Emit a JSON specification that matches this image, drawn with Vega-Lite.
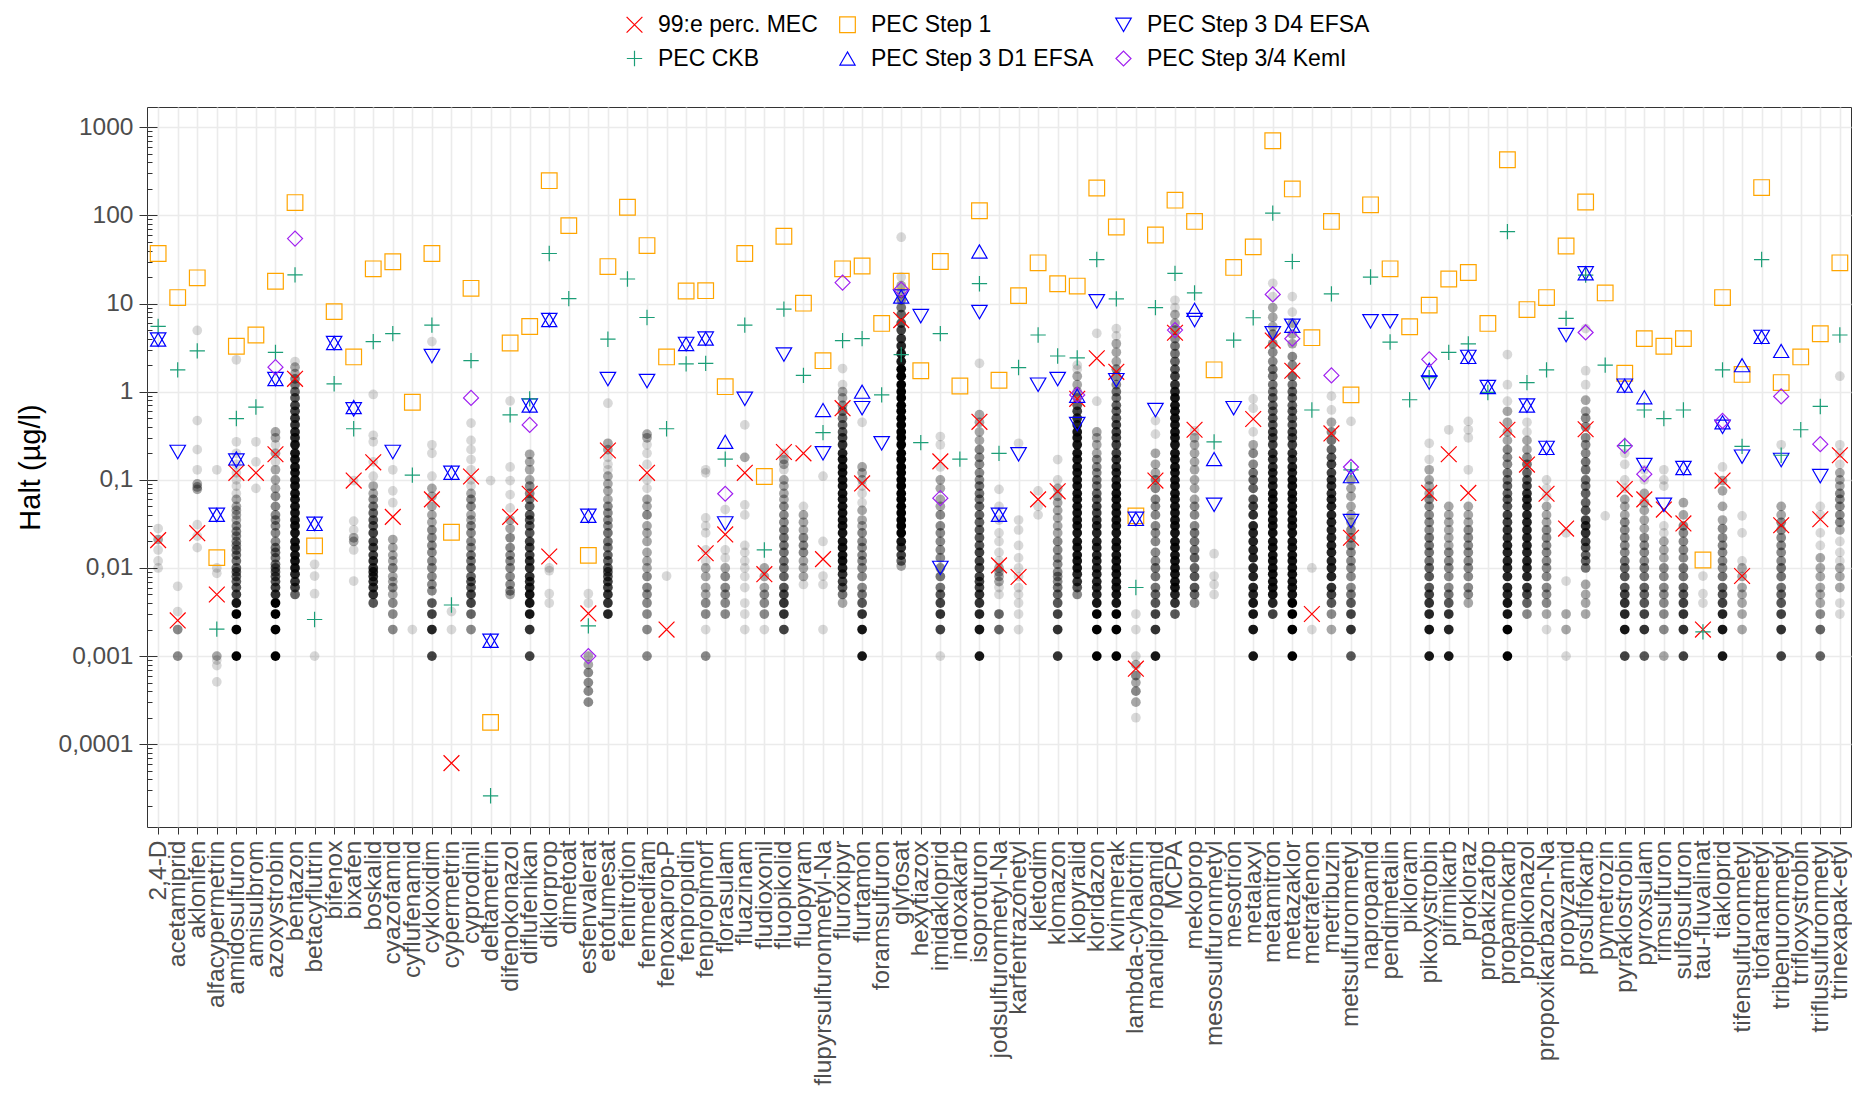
{
 "$schema": "https://vega.github.io/schema/vega-lite/v6.json",
 "width": 1704,
 "height": 720,
 "autosize": "none",
 "padding": {"left": 147, "top": 107, "right": 1, "bottom": 266},
 "background": "white",
 "config": {
  "font": "Liberation Sans",
  "view": {"stroke": "#333333", "strokeWidth": 1},
  "axis": {"labelFont": "Liberation Sans", "titleFont": "Liberation Sans"}
 },
 "datasets": {
  "grey": [
   {"s":"2,4-D","v":[0.028,0.021,0.016,0.012,0.01],"n":[1,2,1,1,1]},
   {"s":"acetamiprid","v":[0.0062,0.0032,0.002,0.001],"n":[1,1,3,3]},
   {"s":"aklonifen","v":[4.95,0.47,0.22,0.13,0.09,0.083,0.078,0.031,0.023,0.017],"n":[1,1,1,1,2,2,2,1,1,1]},
   {"s":"alfacypermetrin","v":[0.13,0.01,0.0087,0.001,0.0009,0.00078,0.00051],"n":[1,1,1,2,1,1,1]},
   {"s":"amidosulfuron","v":[2.3,0.27,0.2,0.15,0.12,0.1,0.085,0.07,0.06,0.05,0.045,0.04,0.035,0.03,0.026,0.023,0.02,0.018,0.016,0.014,0.012,0.01,0.009,0.008,0.007,0.006,0.005,0.004,0.003,0.002,0.001],"n":[1,1,1,1,1,1,1,1,2,2,2,2,2,3,3,3,3,3,4,4,4,5,5,5,5,6,8,15,20,20,20]},
   {"s":"amisulbrom","v":[0.27,0.16,0.08],"n":[1,1,1]},
   {"s":"azoxystrobin","v":[0.35,0.3,0.25,0.2,0.16,0.13,0.1,0.08,0.065,0.05,0.04,0.035,0.03,0.025,0.02,0.017,0.015,0.013,0.011,0.01,0.009,0.008,0.007,0.006,0.005,0.004,0.003,0.002,0.001],"n":[2,2,1,2,1,2,2,2,3,3,3,3,3,3,3,4,4,4,4,5,5,6,6,8,10,20,20,20,20]},
   {"s":"bentazon","v":[2.2,1.9,1.6,1.4,1.2,1.0,0.85,0.7,0.6,0.5,0.42,0.35,0.3,0.25,0.2,0.17,0.14,0.12,0.1,0.085,0.07,0.06,0.05,0.042,0.035,0.03,0.025,0.02,0.017,0.014,0.012,0.01,0.0085,0.007,0.006,0.005],"n":[1,2,2,3,4,5,6,8,8,10,10,12,12,15,15,15,15,15,15,15,15,15,15,15,15,15,15,15,15,15,15,15,12,10,8,5]},
   {"s":"betacyflutrin","v":[0.011,0.0081,0.0051,0.001],"n":[1,1,1,1]},
   {"s":"bixafen","v":[0.098,0.034,0.027,0.022,0.02,0.016,0.0071],"n":[1,1,1,2,2,1,1]},
   {"s":"boskalid","v":[0.93,0.32,0.27,0.16,0.11,0.085,0.07,0.06,0.05,0.042,0.035,0.03,0.025,0.02,0.017,0.014,0.012,0.01,0.009,0.008,0.007,0.006,0.005,0.004],"n":[1,1,1,1,1,2,2,3,4,5,6,6,8,8,8,8,10,10,10,10,10,10,10,6]},
   {"s":"cyazofamid","v":[0.13,0.075,0.055,0.021,0.017,0.014,0.012,0.01,0.008,0.007,0.006,0.005,0.004,0.003,0.002],"n":[1,1,1,2,2,2,2,3,2,2,3,2,3,3,3]},
   {"s":"cyflufenamid","v":[0.002],"n":[1]},
   {"s":"cykloxidim","v":[3.7,0.25,0.2,0.11,0.08,0.065,0.05,0.04,0.033,0.027,0.022,0.018,0.015,0.012,0.01,0.008,0.0065,0.0055,0.004,0.003,0.002,0.001],"n":[1,1,1,1,2,2,2,2,2,3,3,3,3,3,3,3,3,3,6,8,12,8]},
   {"s":"cypermetrin","v":[0.0032,0.002],"n":[1,1]},
   {"s":"cyprodinil","v":[0.44,0.28,0.22,0.17,0.13,0.1,0.085,0.07,0.06,0.05,0.04,0.035,0.03,0.025,0.02,0.017,0.014,0.012,0.01,0.008,0.007,0.006,0.005,0.004,0.003,0.002],"n":[1,1,1,1,1,1,1,2,3,3,2,2,3,3,3,3,4,4,5,5,6,6,8,8,5,3]},
   {"s":"deltametrin","v":[0.098],"n":[1]},
   {"s":"difenokonazol","v":[0.785,0.14,0.098,0.068,0.048,0.035,0.028,0.022,0.017,0.014,0.012,0.01,0.008,0.0065,0.0055,0.005],"n":[1,1,1,1,1,2,2,3,3,3,3,3,3,3,3,2]},
   {"s":"diflufenikan","v":[0.195,0.16,0.13,0.1,0.085,0.07,0.06,0.05,0.04,0.035,0.03,0.025,0.02,0.017,0.014,0.012,0.01,0.008,0.007,0.006,0.005,0.004,0.003,0.002,0.001],"n":[2,2,2,2,3,3,4,5,6,6,6,6,8,8,8,10,10,10,10,12,15,15,15,10,8]},
   {"s":"diklorprop","v":[0.01,0.0093,0.0051,0.004],"n":[1,1,1,1]},
   {"s":"esfenvalerat","v":[0.0051,0.004,0.001,0.0008,0.00065,0.0005,0.0004,0.0003],"n":[1,1,2,2,3,3,3,3]},
   {"s":"etofumesat","v":[0.74,0.26,0.22,0.18,0.15,0.13,0.11,0.09,0.075,0.06,0.05,0.042,0.035,0.03,0.025,0.02,0.017,0.014,0.012,0.01,0.009,0.008,0.007,0.006,0.005,0.004,0.003],"n":[1,2,2,1,1,1,2,2,2,2,3,3,3,3,4,4,4,5,5,6,6,6,8,8,10,10,12]},
   {"s":"fenmedifam","v":[0.33,0.3,0.25,0.2,0.15,0.1,0.08,0.06,0.05,0.04,0.03,0.025,0.02,0.015,0.012,0.01,0.008,0.006,0.005,0.004,0.003,0.002,0.001],"n":[2,2,1,1,1,1,1,2,2,3,2,2,2,2,2,2,3,3,3,3,3,3,3]},
   {"s":"fenoxaprop-P","v":[0.0081],"n":[1]},
   {"s":"fenpropimorf","v":[0.13,0.12,0.037,0.03,0.025,0.016,0.012,0.01,0.008,0.006,0.005,0.004,0.003,0.002,0.001],"n":[1,1,1,1,1,1,1,2,2,2,2,3,3,1,3]},
   {"s":"florasulam","v":[0.046,0.016,0.013,0.01,0.008,0.006,0.005,0.004,0.003],"n":[1,1,1,2,3,3,3,3,3]},
   {"s":"fluazinam","v":[0.42,0.18,0.052,0.04,0.018,0.015,0.012,0.01,0.008,0.006,0.004,0.003,0.002],"n":[1,2,1,1,1,1,1,1,1,1,1,1,1]},
   {"s":"fludioxonil","v":[0.01,0.008,0.006,0.005,0.004,0.003,0.002],"n":[2,2,2,3,3,3,1]},
   {"s":"fluopikolid","v":[0.2,0.17,0.15,0.13,0.1,0.085,0.07,0.06,0.05,0.04,0.033,0.027,0.022,0.018,0.015,0.012,0.01,0.008,0.006,0.005,0.004,0.003,0.002],"n":[1,2,2,1,2,2,2,2,3,3,3,4,4,4,4,4,4,5,6,8,10,10,8]},
   {"s":"fluopyram","v":[0.05,0.04,0.033,0.027,0.022,0.018,0.015,0.012,0.01,0.008,0.0065],"n":[1,2,2,2,3,3,3,2,2,2,1]},
   {"s":"flupyrsulfuronmetyl-Na","v":[0.11,0.02,0.0081,0.0065,0.002],"n":[1,1,1,1,1]},
   {"s":"fluroxipyr","v":[1.83,1.2,1.0,0.85,0.7,0.6,0.5,0.42,0.35,0.3,0.25,0.2,0.17,0.14,0.12,0.1,0.085,0.07,0.06,0.05,0.042,0.035,0.03,0.025,0.02,0.017,0.014,0.012,0.01,0.0085,0.007,0.006,0.005,0.004],"n":[1,1,2,2,3,4,4,5,6,8,10,12,15,15,15,15,15,15,15,15,15,15,15,15,15,15,15,15,12,10,8,6,4,2]},
   {"s":"flurtamon","v":[0.45,0.14,0.12,0.1,0.085,0.07,0.055,0.045,0.035,0.03,0.025,0.02,0.017,0.014,0.012,0.01,0.008,0.006,0.005,0.004,0.003,0.002,0.001],"n":[1,2,2,2,1,1,1,2,2,2,3,3,3,3,3,3,3,3,4,6,10,15,15]},
   {"s":"glyfosat","v":[56.6,20,16,13,11,9,7.5,6,5,4,3.3,2.7,2.2,1.8,1.5,1.2,1.0,0.85,0.7,0.6,0.5,0.42,0.35,0.3,0.25,0.2,0.17,0.14,0.12,0.1,0.085,0.07,0.06,0.05,0.042,0.035,0.03,0.025,0.02,0.017,0.014,0.012,0.0105],"n":[1,1,2,2,3,4,5,6,8,10,12,15,15,20,20,20,20,20,20,20,20,20,20,20,20,20,20,20,20,20,20,20,20,20,20,20,20,20,15,10,8,5,2]},
   {"s":"imidakloprid","v":[0.31,0.25,0.14,0.1,0.08,0.06,0.05,0.04,0.03,0.025,0.02,0.016,0.013,0.01,0.008,0.006,0.005,0.004,0.003,0.002,0.001],"n":[1,1,1,2,2,2,2,3,3,3,3,3,3,3,4,4,6,8,10,8,1]},
   {"s":"isoproturon","v":[2.1,0.55,0.45,0.35,0.28,0.22,0.18,0.15,0.12,0.1,0.085,0.07,0.06,0.05,0.04,0.033,0.027,0.022,0.018,0.015,0.012,0.01,0.008,0.007,0.006,0.005,0.004,0.003,0.002,0.001],"n":[1,2,2,2,2,3,3,3,3,3,4,4,4,5,5,5,6,6,6,8,8,8,8,8,8,10,10,12,15,15]},
   {"s":"jodsulfuronmetyl-Na","v":[0.078,0.05,0.035,0.025,0.02,0.015,0.012,0.01,0.009,0.008,0.007,0.006,0.005,0.003,0.002],"n":[1,1,1,1,1,1,1,2,2,2,2,1,1,5,5]},
   {"s":"karfentrazonetyl","v":[0.26,0.035,0.027,0.018,0.013,0.01,0.008,0.006,0.005,0.004,0.003,0.002],"n":[1,1,1,1,1,1,1,1,1,1,1,1]},
   {"s":"kletodim","v":[0.075,0.05,0.04],"n":[1,1,1]},
   {"s":"klomazon","v":[0.17,0.1,0.08,0.065,0.055,0.045,0.037,0.03,0.025,0.02,0.016,0.013,0.011,0.009,0.008,0.007,0.006,0.005,0.004,0.003,0.002,0.001],"n":[1,1,2,2,2,2,2,2,2,3,3,3,3,3,3,3,4,5,6,8,10,10]},
   {"s":"klopyralid","v":[2.0,1.8,1.5,1.2,1.0,0.85,0.7,0.6,0.5,0.42,0.35,0.3,0.25,0.2,0.17,0.14,0.12,0.1,0.085,0.07,0.06,0.05,0.042,0.035,0.03,0.025,0.02,0.017,0.014,0.012,0.01,0.0085,0.007,0.006,0.005],"n":[1,1,2,2,2,3,5,8,10,12,15,15,15,15,15,15,15,15,15,15,15,15,15,15,15,15,15,15,15,15,15,12,10,6,3]},
   {"s":"kloridazon","v":[4.6,0.78,0.35,0.3,0.25,0.2,0.17,0.14,0.12,0.1,0.085,0.07,0.06,0.05,0.042,0.035,0.03,0.025,0.02,0.017,0.014,0.012,0.01,0.0085,0.007,0.006,0.005,0.004,0.003,0.002,0.001],"n":[1,1,2,2,2,2,3,3,3,4,4,5,6,8,8,10,12,12,12,12,12,12,12,12,12,12,12,15,20,20,20]},
   {"s":"kvinmerak","v":[5.2,4.3,3.5,2.8,2.2,1.8,1.5,1.2,1.0,0.85,0.7,0.6,0.5,0.42,0.35,0.3,0.25,0.2,0.17,0.14,0.12,0.1,0.085,0.07,0.06,0.05,0.042,0.035,0.03,0.025,0.02,0.017,0.014,0.012,0.01,0.0085,0.007,0.006,0.005,0.004,0.003,0.002,0.001],"n":[1,1,2,2,2,3,3,3,4,4,5,5,6,8,8,8,8,8,10,10,12,12,15,15,15,15,15,15,15,15,15,15,15,15,15,15,15,15,15,15,20,20,20]},
   {"s":"lambda-cyhalotrin","v":[0.003,0.002,0.001,0.0008,0.0006,0.0005,0.0004,0.0003,0.0002],"n":[1,1,1,2,3,2,3,2,1]},
   {"s":"mandipropamid","v":[0.47,0.33,0.2,0.15,0.12,0.1,0.08,0.06,0.05,0.04,0.03,0.025,0.02,0.015,0.012,0.01,0.008,0.006,0.005,0.004,0.003,0.002,0.001],"n":[1,1,2,2,2,3,3,3,3,3,3,3,3,3,3,4,4,4,5,6,8,10,15]},
   {"s":"MCPA","v":[10.9,9,7.5,6,5,4,3.3,2.7,2.2,1.8,1.5,1.2,1.0,0.85,0.7,0.6,0.5,0.42,0.35,0.3,0.25,0.2,0.17,0.14,0.12,0.1,0.085,0.07,0.06,0.05,0.042,0.035,0.03,0.025,0.02,0.017,0.014,0.012,0.01,0.0085,0.007,0.006,0.005,0.004,0.003],"n":[1,1,2,2,3,3,4,4,5,6,8,10,12,15,15,15,15,15,15,15,15,15,15,15,15,15,15,15,15,15,15,15,15,15,15,15,15,15,15,15,15,15,12,10,6]},
   {"s":"mekoprop","v":[0.36,0.3,0.25,0.2,0.16,0.13,0.1,0.08,0.06,0.05,0.04,0.03,0.025,0.02,0.016,0.013,0.01,0.008,0.006,0.005,0.004],"n":[1,2,2,2,2,2,2,2,2,3,3,3,4,4,4,5,5,6,6,5,3]},
   {"s":"mesosulfuronmetyl","v":[0.0145,0.0081,0.0065,0.005],"n":[1,1,1,1]},
   {"s":"metalaxyl","v":[0.83,0.65,0.35,0.25,0.2,0.15,0.12,0.1,0.08,0.06,0.05,0.04,0.03,0.025,0.02,0.016,0.013,0.01,0.008,0.006,0.005,0.004,0.003,0.002,0.001],"n":[1,1,1,2,3,3,4,5,5,6,8,10,12,12,12,12,12,12,12,12,12,15,15,15,15]},
   {"s":"metamitron","v":[17,12,9,7,5.5,4.5,3.5,2.8,2.2,1.8,1.5,1.2,1.0,0.85,0.7,0.6,0.5,0.42,0.35,0.3,0.25,0.2,0.17,0.14,0.12,0.1,0.085,0.07,0.06,0.05,0.042,0.035,0.03,0.025,0.02,0.017,0.014,0.012,0.01,0.0085,0.007,0.006,0.005,0.004,0.003],"n":[1,1,2,2,2,3,3,3,3,4,4,4,4,5,5,5,6,6,8,8,8,10,10,10,12,12,12,15,15,15,15,15,15,15,15,15,15,15,15,15,15,15,15,12,8]},
   {"s":"metazaklor","v":[12,8,6,4.5,3.5,2.5,2,1.5,1.2,1,0.85,0.7,0.6,0.5,0.42,0.35,0.3,0.25,0.2,0.17,0.14,0.12,0.1,0.085,0.07,0.06,0.05,0.042,0.035,0.03,0.025,0.02,0.017,0.014,0.012,0.01,0.0085,0.007,0.006,0.005,0.004,0.003,0.002,0.001],"n":[1,1,2,2,2,3,3,4,4,5,5,5,6,6,6,8,8,8,10,10,12,12,15,15,15,15,15,15,15,15,15,15,15,15,15,15,15,15,15,15,20,20,20,20]},
   {"s":"metrafenon","v":[0.01,0.002],"n":[1,1]},
   {"s":"metribuzin","v":[0.89,0.62,0.45,0.35,0.28,0.22,0.18,0.15,0.12,0.1,0.085,0.07,0.06,0.05,0.04,0.033,0.027,0.022,0.018,0.015,0.012,0.01,0.008,0.006,0.005,0.004,0.003,0.002],"n":[1,1,2,3,4,5,6,8,8,10,10,10,12,12,12,12,12,12,12,12,12,12,12,10,8,6,3,2]},
   {"s":"metsulfuronmetyl","v":[0.46,0.1,0.08,0.065,0.05,0.04,0.033,0.027,0.022,0.018,0.015,0.012,0.01,0.008,0.006,0.005,0.004,0.003,0.002,0.001],"n":[1,2,2,2,2,2,2,3,3,3,3,3,3,3,3,4,6,8,10,6]},
   {"s":"pikoxystrobin","v":[0.26,0.17,0.13,0.1,0.085,0.07,0.06,0.05,0.04,0.033,0.027,0.022,0.018,0.015,0.012,0.01,0.008,0.006,0.005,0.004,0.003,0.002,0.001],"n":[1,1,2,2,2,2,3,3,3,3,3,4,4,4,4,5,6,6,8,10,12,15,15]},
   {"s":"pirimikarb","v":[0.37,0.05,0.04,0.033,0.027,0.022,0.018,0.015,0.012,0.01,0.008,0.006,0.005,0.004,0.003,0.002,0.001],"n":[1,2,2,2,2,2,2,3,3,3,3,3,4,6,10,12,15]},
   {"s":"prokloraz","v":[0.46,0.37,0.3,0.13,0.05,0.04,0.033,0.027,0.022,0.018,0.015,0.012,0.01,0.008,0.006,0.005,0.004],"n":[1,1,1,1,2,2,2,3,3,3,3,3,3,3,3,3,2]},
   {"s":"propamokarb","v":[2.64,1.2,0.78,0.6,0.45,0.35,0.28,0.22,0.18,0.15,0.12,0.1,0.085,0.07,0.06,0.05,0.04,0.033,0.027,0.022,0.018,0.015,0.012,0.01,0.008,0.006,0.005,0.004,0.003,0.002,0.001],"n":[1,1,1,2,2,2,2,3,3,3,4,4,5,5,6,6,8,8,10,10,12,12,12,12,12,12,12,15,15,20,20]},
   {"s":"propikonazol","v":[0.45,0.35,0.28,0.22,0.18,0.15,0.12,0.1,0.085,0.07,0.06,0.05,0.04,0.033,0.027,0.022,0.018,0.015,0.012,0.01,0.008,0.006,0.005,0.004,0.003],"n":[1,1,2,2,3,4,5,6,8,10,12,12,12,12,12,12,12,12,12,12,12,10,8,5,3]},
   {"s":"propoxikarbazon-Na","v":[0.1,0.08,0.065,0.05,0.04,0.033,0.027,0.022,0.018,0.015,0.012,0.01,0.008,0.006,0.005,0.004,0.003,0.002],"n":[1,1,1,2,2,2,3,3,3,3,3,3,3,3,3,3,2,1]},
   {"s":"propyzamid","v":[0.025,0.0071,0.003,0.002,0.001],"n":[1,1,2,2,1]},
   {"s":"prosulfokarb","v":[5.2,1.73,1.2,0.8,0.6,0.5,0.4,0.3,0.25,0.2,0.16,0.13,0.1,0.085,0.07,0.055,0.045,0.035,0.03,0.025,0.02,0.017,0.014,0.012,0.01,0.0065,0.005,0.004,0.003],"n":[1,1,1,2,2,3,3,3,3,3,4,4,4,4,5,5,6,8,10,10,8,6,5,5,4,2,2,2,2]},
   {"s":"pymetrozin","v":[0.039],"n":[1]},
   {"s":"pyraklostrobin","v":[0.2,0.15,0.1,0.08,0.06,0.05,0.04,0.033,0.027,0.022,0.018,0.015,0.012,0.01,0.008,0.006,0.005,0.004,0.003,0.002,0.001],"n":[1,1,1,1,2,2,2,3,3,3,3,3,4,5,6,6,8,10,12,15,8]},
   {"s":"pyroxsulam","v":[0.13,0.1,0.07,0.055,0.045,0.035,0.028,0.022,0.018,0.015,0.012,0.01,0.008,0.006,0.005,0.004,0.003,0.002,0.001],"n":[1,1,2,2,2,2,2,3,3,3,3,4,4,5,5,6,8,10,6]},
   {"s":"rimsulfuron","v":[0.13,0.1,0.085,0.03,0.025,0.02,0.016,0.013,0.01,0.008,0.006,0.005,0.004,0.003,0.002,0.001],"n":[1,1,1,1,1,2,2,2,3,3,3,3,3,3,3,2]},
   {"s":"sulfosulfuron","v":[0.055,0.04,0.03,0.025,0.02,0.016,0.013,0.01,0.008,0.006,0.005,0.004,0.003,0.002,0.001],"n":[2,2,3,3,3,3,3,4,4,5,6,8,10,10,8]},
   {"s":"tau-fluvalinat","v":[0.0081,0.0051,0.004],"n":[1,1,1]},
   {"s":"tiakloprid","v":[0.14,0.098,0.075,0.05,0.035,0.028,0.022,0.018,0.015,0.012,0.01,0.008,0.006,0.005,0.004,0.003,0.002,0.001],"n":[1,2,2,2,2,3,3,3,3,3,3,4,5,6,8,12,15,15]},
   {"s":"tifensulfuronmetyl","v":[0.039,0.025,0.012,0.01,0.008,0.006,0.005,0.004,0.003,0.002],"n":[1,1,1,2,2,2,2,2,2,2]},
   {"s":"tribenuronmetyl","v":[0.25,0.05,0.04,0.033,0.027,0.022,0.018,0.015,0.012,0.01,0.008,0.006,0.005,0.004,0.003,0.002,0.001],"n":[1,2,2,3,3,3,3,3,3,4,4,4,5,6,8,10,8]},
   {"s":"triflusulfuronmetyl","v":[0.05,0.04,0.025,0.018,0.013,0.01,0.008,0.006,0.005,0.004,0.003,0.002,0.001],"n":[1,1,1,1,2,2,2,2,2,2,3,5,5]},
   {"s":"trinexapak-etyl","v":[1.5,0.25,0.2,0.15,0.12,0.1,0.085,0.07,0.06,0.05,0.04,0.033,0.027,0.02,0.015,0.012,0.01,0.008,0.006,0.004,0.003],"n":[1,1,1,1,2,2,2,3,3,3,3,3,2,1,1,1,2,2,2,1,1]}
  ],
  "pec": [
   {"s":"2,4-D","MEC":0.0207,"S1":37,"CKB":5.5,"D1":3.9,"D4":3.9},
   {"s":"acetamiprid","MEC":0.00254,"S1":11.7,"CKB":1.77,"D4":0.207},
   {"s":"aklonifen","MEC":0.0248,"S1":19.6,"CKB":2.9},
   {"s":"alfacypermetrin","MEC":0.005,"S1":0.0131,"CKB":0.00202,"D1":0.04,"D4":0.04},
   {"s":"amidosulfuron","MEC":0.12,"S1":3.28,"CKB":0.496,"D1":0.175,"D4":0.165},
   {"s":"amisulbrom","MEC":0.12,"S1":4.4,"CKB":0.67},
   {"s":"azoxystrobin","MEC":0.195,"S1":17.9,"CKB":2.8,"D1":1.39,"D4":1.39,"K":1.9},
   {"s":"bentazon","MEC":1.4,"S1":140,"CKB":21.2,"K":54.6},
   {"s":"betacyflutrin","S1":0.0178,"CKB":0.0026,"D1":0.0316,"D4":0.0316},
   {"s":"bifenox","S1":8.1,"CKB":1.23,"D1":3.57,"D4":3.57},
   {"s":"bixafen","MEC":0.098,"S1":2.48,"CKB":0.38,"D1":0.67,"D4":0.63},
   {"s":"boskalid","MEC":0.158,"S1":24.8,"CKB":3.7},
   {"s":"cyazofamid","MEC":0.038,"S1":29.8,"CKB":4.55,"D4":0.207},
   {"s":"cyflufenamid","S1":0.76,"CKB":0.113},
   {"s":"cykloxidim","MEC":0.06,"S1":37,"CKB":5.7,"D4":2.54},
   {"s":"cypermetrin","MEC":0.000061,"S1":0.0254,"CKB":0.0038,"D1":0.12,"D4":0.12},
   {"s":"cyprodinil","MEC":0.109,"S1":14.9,"CKB":2.25,"K":0.85},
   {"s":"deltametrin","S1":0.000177,"CKB":0.000026,"D1":0.00149,"D4":0.00149},
   {"s":"difenokonazol","MEC":0.038,"S1":3.57,"CKB":0.545},
   {"s":"diflufenikan","MEC":0.0695,"S1":5.5,"CKB":0.83,"D1":0.695,"D4":0.695,"K":0.42},
   {"s":"diklorprop","MEC":0.0135,"S1":248,"CKB":37,"D1":6.5,"D4":6.5},
   {"s":"dimetoat","S1":76.6,"CKB":11.4},
   {"s":"esfenvalerat","MEC":0.00305,"S1":0.0139,"CKB":0.0022,"D1":0.039,"D4":0.039,"K":0.001},
   {"s":"etofumesat","MEC":0.215,"S1":26.3,"CKB":3.94,"D4":1.39},
   {"s":"fenitrotion","S1":124,"CKB":19},
   {"s":"fenmedifam","MEC":0.12,"S1":45.5,"CKB":6.95,"D4":1.32},
   {"s":"fenoxaprop-P","MEC":0.002,"S1":2.48,"CKB":0.38},
   {"s":"fenpropidin","S1":13.9,"CKB":2.07,"D1":3.48,"D4":3.48},
   {"s":"fenpropimorf","MEC":0.0147,"S1":14,"CKB":2.1,"D1":4.0,"D4":4.0},
   {"s":"florasulam","MEC":0.024,"S1":1.14,"CKB":0.172,"D1":0.27,"D4":0.032,"K":0.0695},
   {"s":"fluazinam","MEC":0.12,"S1":37,"CKB":5.7,"D4":0.83},
   {"s":"fludioxonil","MEC":0.0085,"S1":0.109,"CKB":0.016},
   {"s":"fluopikolid","MEC":0.207,"S1":58,"CKB":8.65,"D4":2.64},
   {"s":"fluopyram","MEC":0.2,"S1":10.1,"CKB":1.53},
   {"s":"flupyrsulfuronmetyl-Na","MEC":0.0126,"S1":2.25,"CKB":0.344,"D1":0.62,"D4":0.2},
   {"s":"fluroxipyr","MEC":0.65,"S1":24.8,"CKB":3.8,"K":17.3},
   {"s":"flurtamon","MEC":0.091,"S1":26.7,"CKB":4.0,"D1":1.0,"D4":0.65},
   {"s":"foramsulfuron","S1":5.95,"CKB":0.92,"D4":0.26},
   {"s":"glyfosat","MEC":6.5,"S1":17.9,"CKB":2.64,"D1":12,"D4":12,"K":14.4},
   {"s":"hexytiazox","S1":1.73,"CKB":0.264,"D4":7.2},
   {"s":"imidakloprid","MEC":0.162,"S1":30,"CKB":4.55,"D4":0.01,"K":0.062},
   {"s":"indoxakarb","S1":1.16,"CKB":0.172},
   {"s":"isoproturon","MEC":0.455,"S1":113,"CKB":16.8,"D1":39,"D4":8.0},
   {"s":"jodsulfuronmetyl-Na","MEC":0.0107,"S1":1.35,"CKB":0.2,"D1":0.04,"D4":0.04},
   {"s":"karfentrazonetyl","MEC":0.0079,"S1":12.3,"CKB":1.88,"D4":0.195},
   {"s":"kletodim","MEC":0.06,"S1":29,"CKB":4.4,"D4":1.2},
   {"s":"klomazon","MEC":0.074,"S1":16.8,"CKB":2.54,"D4":1.39},
   {"s":"klopyralid","MEC":0.83,"S1":15.8,"CKB":2.42,"D1":0.9,"D4":0.43,"K":0.92},
   {"s":"kloridazon","MEC":2.39,"S1":205,"CKB":31.6,"D4":10.6},
   {"s":"kvinmerak","MEC":1.68,"S1":74,"CKB":11.3,"D4":1.35},
   {"s":"lambda-cyhalotrin","MEC":0.00072,"S1":0.039,"CKB":0.006,"D1":0.036,"D4":0.036},
   {"s":"mandipropamid","MEC":0.098,"S1":60,"CKB":9.0,"D4":0.62},
   {"s":"MCPA","MEC":4.66,"S1":149,"CKB":22,"K":5.0},
   {"s":"mekoprop","MEC":0.37,"S1":85.5,"CKB":13.2,"D1":8.5,"D4":6.5},
   {"s":"mesosulfuronmetyl","S1":1.77,"CKB":0.27,"D1":0.172,"D4":0.052},
   {"s":"mesotrion","S1":25.7,"CKB":3.84,"D4":0.65},
   {"s":"metalaxyl","MEC":0.49,"S1":44,"CKB":6.9},
   {"s":"metamitron","MEC":3.8,"S1":703,"CKB":106,"D4":4.6,"K":12.7},
   {"s":"metazaklor","MEC":1.73,"S1":200,"CKB":30,"D1":5.6,"D4":5.6,"K":4.0},
   {"s":"metrafenon","MEC":0.003,"S1":4.1,"CKB":0.62},
   {"s":"metribuzin","MEC":0.336,"S1":85.5,"CKB":12.9,"K":1.53},
   {"s":"metsulfuronmetyl","MEC":0.022,"S1":0.92,"CKB":0.13,"D1":0.11,"D4":0.034,"K":0.14},
   {"s":"napropamid","S1":132,"CKB":20,"D4":6.3},
   {"s":"pendimetalin","S1":24.8,"CKB":3.66,"D4":6.3},
   {"s":"pikloram","S1":5.45,"CKB":0.81},
   {"s":"pikoxystrobin","MEC":0.071,"S1":9.6,"CKB":1.44,"D1":1.77,"D4":1.27,"K":2.33},
   {"s":"pirimikarb","MEC":0.195,"S1":19,"CKB":2.8},
   {"s":"prokloraz","MEC":0.071,"S1":22.5,"CKB":3.48,"D1":2.48,"D4":2.48},
   {"s":"propakizafop","S1":5.95,"CKB":0.98,"D1":1.13,"D4":1.13},
   {"s":"propamokarb","MEC":0.37,"S1":428,"CKB":65.5},
   {"s":"propikonazol","MEC":0.149,"S1":8.55,"CKB":1.27,"D1":0.695,"D4":0.695},
   {"s":"propoxikarbazon-Na","MEC":0.0695,"S1":11.7,"CKB":1.77,"D1":0.23,"D4":0.23},
   {"s":"propyzamid","MEC":0.028,"S1":45,"CKB":6.8,"D4":4.4},
   {"s":"prosulfokarb","MEC":0.375,"S1":142,"CKB":21,"D1":22,"D4":22,"K":4.7},
   {"s":"pymetrozin","S1":13.2,"CKB":2.0},
   {"s":"pyraklostrobin","MEC":0.0785,"S1":1.62,"CKB":0.245,"D1":1.17,"D4":1.17,"K":0.242},
   {"s":"pyroxsulam","MEC":0.06,"S1":4.0,"CKB":0.62,"D1":0.865,"D4":0.147,"K":0.116},
   {"s":"rimsulfuron","MEC":0.046,"S1":3.28,"CKB":0.496,"D4":0.052},
   {"s":"sulfosulfuron","MEC":0.032,"S1":4.0,"CKB":0.62,"D1":0.136,"D4":0.136},
   {"s":"tau-fluvalinat","MEC":0.002,"S1":0.0123,"CKB":0.00188},
   {"s":"tiakloprid","MEC":0.098,"S1":11.7,"CKB":1.77,"D1":0.45,"D4":0.4,"K":0.466},
   {"s":"tifensulfuronmetyl","MEC":0.0081,"S1":1.57,"CKB":0.24,"D1":2.0,"D4":0.183},
   {"s":"tiofanatmetyl","S1":207,"CKB":31.6,"D1":4.18,"D4":4.18},
   {"s":"tribenuronmetyl","MEC":0.0305,"S1":1.27,"CKB":0.19,"D1":2.9,"D4":0.168,"K":0.885},
   {"s":"trifloxystrobin","S1":2.48,"CKB":0.37},
   {"s":"triflusulfuronmetyl","MEC":0.0357,"S1":4.55,"CKB":0.68,"D4":0.11,"K":0.254},
   {"s":"trinexapak-etyl","MEC":0.19,"S1":29,"CKB":4.4}
  ]
 },
 "layer": [
  {
   "data": {"name": "grey"},
   "transform": [{"flatten": ["v", "n"]}],
   "mark": {"type": "circle", "size": 95, "color": "black", "strokeWidth": 0},
   "encoding": {
    "x": {
     "field": "s", "type": "nominal",
     "scale": {"type": "point", "padding": 0.57, "domain": ["2,4-D","acetamiprid","aklonifen","alfacypermetrin","amidosulfuron","amisulbrom","azoxystrobin","bentazon","betacyflutrin","bifenox","bixafen","boskalid","cyazofamid","cyflufenamid","cykloxidim","cypermetrin","cyprodinil","deltametrin","difenokonazol","diflufenikan","diklorprop","dimetoat","esfenvalerat","etofumesat","fenitrotion","fenmedifam","fenoxaprop-P","fenpropidin","fenpropimorf","florasulam","fluazinam","fludioxonil","fluopikolid","fluopyram","flupyrsulfuronmetyl-Na","fluroxipyr","flurtamon","foramsulfuron","glyfosat","hexytiazox","imidakloprid","indoxakarb","isoproturon","jodsulfuronmetyl-Na","karfentrazonetyl","kletodim","klomazon","klopyralid","kloridazon","kvinmerak","lambda-cyhalotrin","mandipropamid","MCPA","mekoprop","mesosulfuronmetyl","mesotrion","metalaxyl","metamitron","metazaklor","metrafenon","metribuzin","metsulfuronmetyl","napropamid","pendimetalin","pikloram","pikoxystrobin","pirimikarb","prokloraz","propakizafop","propamokarb","propikonazol","propoxikarbazon-Na","propyzamid","prosulfokarb","pymetrozin","pyraklostrobin","pyroxsulam","rimsulfuron","sulfosulfuron","tau-fluvalinat","tiakloprid","tifensulfuronmetyl","tiofanatmetyl","tribenuronmetyl","trifloxystrobin","triflusulfuronmetyl","trinexapak-etyl"]},
     "axis": {"title": null, "labelAngle": 270, "labelAlign": "right", "labelBaseline": "middle", "labelFontSize": 24.5, "labelColor": "#4d4d4d", "labelPadding": 6, "tickSize": 7, "tickColor": "#333333", "tickWidth": 1, "domain": false, "grid": true, "gridColor": "#ebebeb", "gridWidth": 1.6, "labelOverlap": false, "labelLimit": 400}
    },
    "y": {
     "field": "v", "type": "quantitative",
     "scale": {"type": "log", "domain": [0.0000115, 1700], "nice": false},
     "axis": {"title": "Halt (µg/l)", "titleFontSize": 29, "titleFontWeight": "normal", "titleColor": "black", "titleX": -117, "titleY": 360, "titleAngle": 270, "titleAlign": "center", "titleBaseline": "middle", "values": [0.0001, 0.001, 0.01, 0.1, 1, 10, 100, 1000], "labelExpr": "replace(format(datum.value, ''), '.', ',')", "labelFontSize": 24.5, "labelColor": "#4d4d4d", "labelPadding": 6, "tickSize": 8, "tickColor": "#333333", "tickWidth": 1, "domain": false, "grid": true, "gridColor": "#ebebeb", "gridWidth": 1.6}
    },
    "opacity": {"field": "n", "type": "quantitative", "scale": {"type": "log", "domain": [1, 20], "range": [0.15, 1], "clamp": true}, "legend": null}
   }
  },
  {
   "data": {"name": "pec"},
   "transform": [{"fold": ["MEC", "S1", "D4", "CKB", "D1", "K"], "as": ["t", "v"]}, {"filter": "isValid(datum.v)"}],
   "mark": {"type": "point", "filled": false, "strokeWidth": 1.2, "opacity": 1},
   "encoding": {
    "x": {"field": "s", "type": "nominal"},
    "y": {
     "field": "v", "type": "quantitative",
     "axis": {"orient": "left", "title": null, "labels": false, "grid": false, "domain": false, "tickColor": "#333333", "tickWidth": 1,
      "values": [0.00002,0.00003,0.00004,0.00005,0.00006,0.00007,0.00008,0.00009,0.0001,0.0002,0.0003,0.0004,0.0005,0.0006,0.0007,0.0008,0.0009,0.001,0.002,0.003,0.004,0.005,0.006,0.007,0.008,0.009,0.01,0.02,0.03,0.04,0.05,0.06,0.07,0.08,0.09,0.1,0.2,0.3,0.4,0.5,0.6,0.7,0.8,0.9,1,2,3,4,5,6,7,8,9,10,20,30,40,50,60,70,80,90,100,200,300,400,500,600,700,800,900,1000],
      "tickSize": {"condition": {"test": "abs(log(datum.value)/LN10 - round(log(datum.value)/LN10)) < 0.01", "value": -10}, "value": -5}}
    },
    "shape": {"field": "t", "type": "nominal", "scale": {"domain": ["MEC", "S1", "D4", "CKB", "D1", "K"], "range": ["M-1,-1L1,1M-1,1L1,-1", "square", "triangle-down", "M-1,0L1,0M0,-1L0,1", "triangle-up", "diamond"]},
     "legend": {"title": null, "orient": "none", "legendX": 476, "legendY": -94, "direction": "horizontal", "columns": 3, "labelFontSize": 23, "labelColor": "black", "labelFont": "Liberation Sans", "labelLimit": 500, "symbolStrokeWidth": 1.2, "labelOffset": 12, "columnPadding": 18, "rowPadding": 10, "padding": 0,
      "labelExpr": "datum.label == 'MEC' ? '99:e perc. MEC' : datum.label == 'S1' ? 'PEC Step 1' : datum.label == 'D4' ? 'PEC Step 3 D4 EFSA' : datum.label == 'CKB' ? 'PEC CKB' : datum.label == 'D1' ? 'PEC Step 3 D1 EFSA' : 'PEC Step 3/4 KemI'"}},
    "color": {"field": "t", "type": "nominal", "scale": {"domain": ["MEC", "S1", "D4", "CKB", "D1", "K"], "range": ["#ff0000", "#ffa500", "#0000ff", "#1b9e77", "#0000ff", "#a020f0"]}},
    "size": {"field": "t", "type": "nominal", "scale": {"domain": ["MEC", "S1", "D4", "CKB", "D1", "K"], "range": [250, 225, 400, 450, 400, 430]}}
   }
  }
 ],
 "resolve": {"axis": {"y": "independent"}}
}
